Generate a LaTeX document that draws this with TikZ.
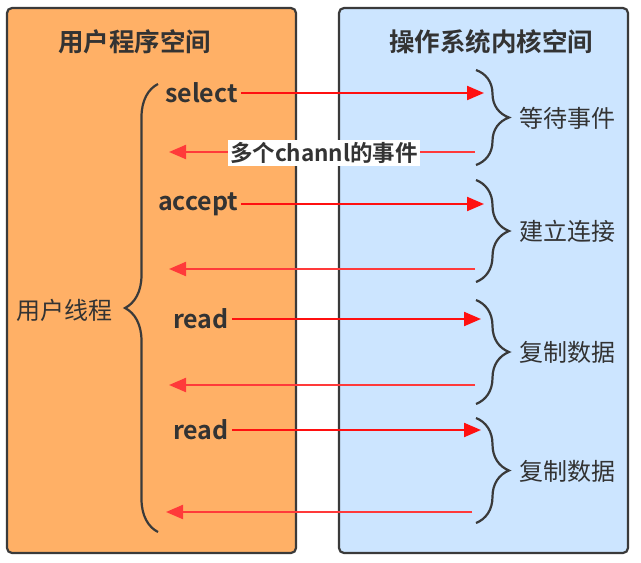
\documentclass[tikz,border=0pt]{standalone}
\usepackage{fontspec}
\setmainfont{Noto Sans CJK SC}[BoldFont={Noto Sans CJK SC Bold}]
\usetikzlibrary{arrows.meta,decorations.pathreplacing}
\definecolor{userfill}{HTML}{FFB066}
\definecolor{kernfill}{HTML}{CCE5FF}
\definecolor{framegray}{HTML}{3A3A3A}
\definecolor{textgray}{HTML}{333333}
\definecolor{callred}{HTML}{FF1010}
\definecolor{backred}{HTML}{FF3A3A}
\begin{document}
\begin{tikzpicture}[x=1pt,y=-1pt,
  space/.style={draw=framegray,line width=2.2pt,rounded corners=5pt},
  title/.style={font=\bfseries\fontsize{25.5}{28}\selectfont,text=textgray},
  call/.style={font=\bfseries\fontsize{25}{28}\selectfont,text=textgray,inner sep=3pt,anchor=west},
  tag/.style={font=\fontsize{24}{26}\selectfont,text=textgray,anchor=west,inner sep=0pt},
  go/.style={callred,line width=2.2pt,-{Triangle[length=17pt,width=14pt]}},
  back/.style={backred,line width=2.2pt,-{Triangle[length=17pt,width=14pt]}},
  curly/.style={draw=framegray,line width=2.2pt,decorate,decoration={brace,amplitude=33pt}}]
  \useasboundingbox[fill=white] (0,0) rectangle (641,563);
  % the two spaces
  \draw[space,fill=userfill] (7,8) rectangle (296,553);
  \draw[space,fill=kernfill] (339,8) rectangle (628,553);
  \node[title] (usertitle) at (135,42) {用户程序空间};
  \node[title] (kerntitle) at (491,42) {操作系统内核空间};
  % user thread
  \coordinate (threadtop) at (158,84);
  \coordinate (threadbot) at (158,532);
  \draw[curly] (threadbot) -- (threadtop);
  \node[tag] (thread) at (16,310) {用户线程};
  % calls
  \node[call] (select) at (162,93) {select};
  \node[call] (accept) at (155,204) {accept};
  \node[call] (read1) at (170,319) {read};
  \node[call] (read2) at (170,430) {read};
  \coordinate (selectin) at (484,93);
  \coordinate (acceptin) at (484,204);
  \coordinate (read1in) at (481,319);
  \coordinate (read2in) at (481,430);
  \draw[go] (select) -- (selectin);
  \draw[go] (accept) -- (acceptin);
  \draw[go] (read1) -- (read1in);
  \draw[go] (read2) -- (read2in);
  % returns
  \coordinate (back1s) at (475,152);
  \coordinate (back1e) at (169,152);
  \coordinate (back2s) at (475,269);
  \coordinate (back2e) at (169,269);
  \coordinate (back3s) at (475,385);
  \coordinate (back3e) at (169,385);
  \coordinate (back4s) at (472,512);
  \coordinate (back4e) at (166,512);
  \draw[back] (back1s) -- (back1e);
  \draw[back] (back2s) -- (back2e);
  \draw[back] (back3s) -- (back3e);
  \draw[back] (back4s) -- (back4e);
  \node[fill=white,inner sep=2pt,font=\bfseries\fontsize{22.5}{25}\selectfont,text=textgray] (events) at (324,153) {多个channl的事件};
  % kernel phases
  \coordinate (wait1) at (476,70);  \coordinate (wait2) at (476,165);
  \coordinate (conn1) at (476,180); \coordinate (conn2) at (476,282);
  \coordinate (copy1) at (476,300); \coordinate (copy2) at (476,404);
  \coordinate (copy3) at (476,418); \coordinate (copy4) at (476,523);
  \draw[curly] (wait1) -- (wait2);
  \draw[curly] (conn1) -- (conn2);
  \draw[curly] (copy1) -- (copy2);
  \draw[curly] (copy3) -- (copy4);
  \node[tag] (waittag) at (519,118) {等待事件};
  \node[tag] (conntag) at (519,231) {建立连接};
  \node[tag] (copytag1) at (519,352) {复制数据};
  \node[tag] (copytag2) at (519,471) {复制数据};
\end{tikzpicture}
\end{document}
